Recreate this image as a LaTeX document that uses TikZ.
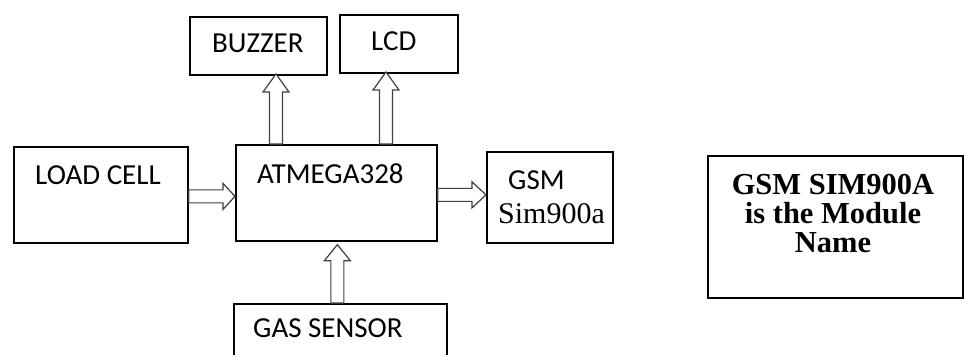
\documentclass[tikz,border=0pt]{standalone}
\usepackage{fontspec}
\setmainfont{Liberation Serif}
\newfontfamily\calib{Carlito}
\usetikzlibrary{calc}
\tikzset{
  blk/.style={draw=black, line width=1.7pt, inner sep=0pt, anchor=north west},
  lbl/.style={font=\calib\fontsize{29}{30}\selectfont, anchor=base west, inner sep=0pt, text=black},
  serlbl/.style={font=\fontsize{30}{30}\selectfont, anchor=base west, inner sep=0pt, text=black},
  notetxt/.style={font=\bfseries\fontsize{30.5}{29}\selectfont, align=center, inner sep=0pt, text=black},
  harrow/.style={draw=black!75, line width=1.2pt, fill=white, line join=miter},
}
\newcommand\hollowarrow[3][12pt]{%
  \coordinate (ha-s) at #2;
  \coordinate (ha-e) at #3;
  \coordinate (ha-c) at ($(ha-e)!#1!(ha-s)$);
  \draw[harrow] ($(ha-s)!6.5pt!90:(ha-e)$) -- ($(ha-c)!6.5pt!90:(ha-e)$)
    -- ($(ha-c)!13pt!90:(ha-e)$) -- (ha-e) -- ($(ha-c)!13pt!-90:(ha-e)$)
    -- ($(ha-c)!6.5pt!-90:(ha-e)$) -- ($(ha-s)!6.5pt!-90:(ha-e)$) -- cycle;}
\begin{document}
\begin{tikzpicture}[x=1pt,y=-1pt]
\useasboundingbox[fill=white] (0,0) rectangle (964,354);
\clip (0,0) rectangle (964,354);
% boxes
\node[blk, minimum width=137pt, minimum height=58pt] (buzzer) at (189,16) {};
\node[blk, minimum width=118pt, minimum height=58pt] (lcd) at (339,14) {};
\node[blk, minimum width=174pt, minimum height=96pt] (load) at (13,146) {};
\node[blk, minimum width=201pt, minimum height=96pt] (atm) at (235,144) {};
\node[blk, minimum width=126pt, minimum height=91pt] (gsm) at (486,151) {};
\node[blk, minimum width=213pt, minimum height=90pt] (gas) at (233,303) {};
\node[blk, line width=1.5pt, minimum width=255pt, minimum height=142pt] (note) at (707,155) {};
% arrows
\coordinate (bz-in) at (276,74);
\coordinate (lc-in) at (386,72);
\coordinate (ld-out) at ($(load.east)+(0,1.5)$);
\coordinate (atm-in) at (ld-out -| atm.west);
\coordinate (atm-out) at ($(atm.east)+(0,2)$);
\coordinate (gsm-in) at (atm-out -| gsm.west);
\coordinate (gas-out) at ($(gas.north)+(-3,0)$);
\coordinate (atm-bot) at ($(gas-out |- atm.south)+(0,3)$);
\hollowarrow[18pt]{(atm.north -| bz-in)}{(bz-in)}
\hollowarrow[18pt]{(atm.north -| lc-in)}{(lc-in)}
\hollowarrow{(ld-out)}{(atm-in)}
\hollowarrow[14pt]{(atm-out)}{(gsm-in)}
\hollowarrow[16pt]{(gas-out)}{(atm-bot)}
% labels
\node[lbl] (t-bz) at (212,52) {BUZZER};
\node[lbl] (t-lcd) at (371,50) {LCD};
\node[lbl] (t-load) at (35,184) {LOAD CELL};
\node[lbl] (t-atm) at (257,183) {ATMEGA328};
\node[lbl] (t-gas) at (253,337) {GAS SENSOR};
\node[lbl] (t-gsm) at (508,189) {GSM};
\node[serlbl] (t-sim) at (498,223) {Sim900a};
\node[notetxt, anchor=base] (t-note) at (833,252) {GSM SIM900A\\is the Module\\Name};
\end{tikzpicture}
\end{document}
